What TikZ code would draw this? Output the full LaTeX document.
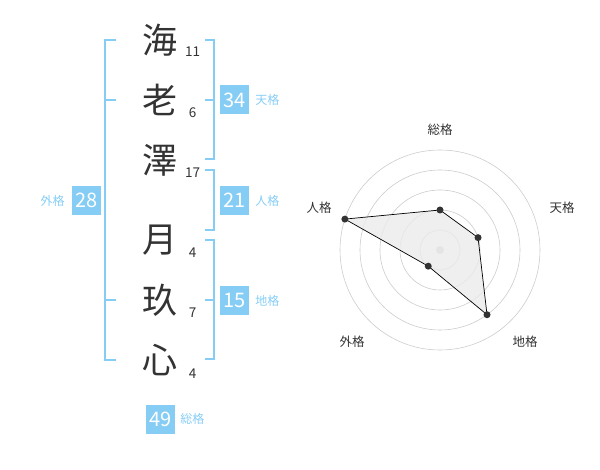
\documentclass[tikz,border=0pt]{standalone}
\usepackage{fontspec}
\setmainfont{Noto Sans CJK JP}
\usetikzlibrary{positioning,calc}
\definecolor{kblue}{HTML}{86CDF6}
\definecolor{kdark}{HTML}{333333}
\definecolor{kgrid}{HTML}{CCCCCC}
\definecolor{kfill}{HTML}{EBEBEB}
\tikzset{
  kanji/.style={inner sep=0pt, text=kdark, font=\fontsize{35}{35}\selectfont},
  strokes/.style={inner sep=0pt, anchor=base, text=kdark, font=\fontsize{13.5}{13.5}\selectfont},
  valbox/.style={fill=kblue, text=white, minimum width=29pt, minimum height=29pt, inner sep=0pt, font=\fontsize{20}{20}\selectfont},
  kaku/.style={inner sep=0pt, text=kblue, font=\fontsize{12}{12}\selectfont},
  bracket/.style={draw=kblue, line width=2pt},
  ring/.style={draw=kgrid, line width=0.6pt},
  radarlabel/.style={inner sep=0pt, text=kdark, font=\fontsize{12.5}{12.5}\selectfont},
  dot/.style={circle, fill=kdark, inner sep=0pt, minimum size=7pt},
}
\begin{document}
\begin{tikzpicture}[x=1pt,y=-1pt]
\useasboundingbox (0,0) rectangle (600,470);
% kanji
\node[kanji] (k1) at (160,40) {海};
\node[kanji] (k2) at (160,100) {老};
\node[kanji] (k3) at (160,160) {澤};
\node[kanji] (k4) at (160,240) {月};
\node[kanji] (k5) at (160,300) {玖};
\node[kanji] (k6) at (160,360) {心};
% stroke counts
\node[strokes] (n1) at (192.5,57) {11};
\node[strokes] (n2) at (192.5,118) {6};
\node[strokes] (n3) at (192.5,178) {17};
\node[strokes] (n4) at (192.5,258) {4};
\node[strokes] (n5) at (192.5,318) {7};
\node[strokes] (n6) at (192.5,378) {4};
% brackets
\draw[bracket] (116,40) -- (105,40) -- (105,360) -- (116,360);
\draw[bracket] (105,100) -- (116,100);
\draw[bracket] (105,300) -- (116,300);
\draw[bracket] (205,40) -- (214,40) -- (214,159) -- (205,159);
\draw[bracket] (205,100) -- (214,100);
\draw[bracket] (205,170) -- (214,170) -- (214,230) -- (205,230);
\draw[bracket] (205,240) -- (214,240) -- (214,359) -- (205,359);
\draw[bracket] (205,300) -- (214,300);
% value boxes
\node[valbox] (ten) at (234.5,100) {34};
\node[kaku, right=6pt of ten] (tenl) {天格};
\node[valbox] (jin) at (234.5,200.5) {21};
\node[kaku, right=6pt of jin] (jinl) {人格};
\node[valbox] (chi) at (234.5,300.5) {15};
\node[kaku, right=6pt of chi] (chil) {地格};
\node[valbox] (gai) at (86.5,200.5) {28};
\node[kaku, left=7pt of gai] (gail) {外格};
\node[valbox] (sou) at (160.5,419) {49};
\node[kaku, right=5pt of sou] (soul) {総格};
% radar
\coordinate (c) at (440,250);
\foreach \r in {20,40,60,80,100} \draw[ring] (c) circle (\r);
\fill[kgrid] (c) circle (4);
\coordinate (pS) at ($(c)+(-90:40)$);
\coordinate (pT) at ($(c)+(-18:40)$);
\coordinate (pC) at ($(c)+(54:80)$);
\coordinate (pG) at ($(c)+(126:20)$);
\coordinate (pJ) at ($(c)+(198:100)$);
\filldraw[fill=kfill, fill opacity=0.8, draw=black, line width=0.7pt] (pS) -- (pT) -- (pC) -- (pG) -- (pJ) -- cycle;
\foreach \p in {pS,pT,pC,pG,pJ} \node[dot] at (\p) {};
\node[radarlabel] (lS) at (440,130) {総格};
\node[radarlabel] (lT) at (562,208) {天格};
\node[radarlabel] (lJ) at (319,208) {人格};
\node[radarlabel] (lG) at (352,342) {外格};
\node[radarlabel] (lC) at (525,342) {地格};
\end{tikzpicture}
\end{document}
